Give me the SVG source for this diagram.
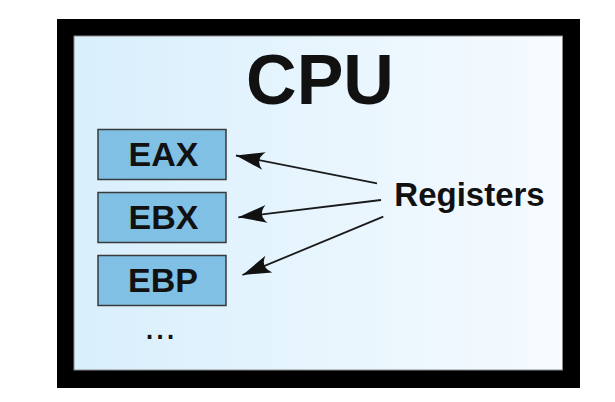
<svg xmlns="http://www.w3.org/2000/svg" width="615" height="402" viewBox="0 0 615 402">
  <defs>
    <linearGradient id="bg" x1="0" y1="0" x2="1" y2="0">
      <stop offset="0" stop-color="#d8effc"/>
      <stop offset="1" stop-color="#f6fbff"/>
    </linearGradient>
    <marker id="head" markerUnits="userSpaceOnUse" markerWidth="40" markerHeight="30" viewBox="-32 -15 40 30" refX="0" refY="0" orient="auto">
      <path d="M0,0 L-28.5,-9 Q-19,0 -28.5,9 Z" fill="#111"/>
    </marker>
    <style>
      .reg { fill: #80c0e4; stroke: #3a3a3a; stroke-width: 1.5; }
      .regtxt { font-family: "Liberation Sans", Arial, sans-serif; font-weight: bold; font-size: 34px; fill: #111; text-anchor: middle; }
      .conn { stroke: #1a1a1a; stroke-width: 1.8; fill: none; marker-end: url(#head); }
    </style>
  </defs>
  <rect width="615" height="402" fill="#ffffff"/>
  <g id="cpu">
    <rect x="57" y="19" width="523" height="369" fill="#000000"/>
    <rect x="74" y="36" width="488.5" height="334" fill="url(#bg)" stroke="#8a8a8a" stroke-width="1"/>
    <text x="320" y="103.5" font-family="Liberation Sans, Arial, sans-serif" font-weight="bold" font-size="70" fill="#111" text-anchor="middle">CPU</text>
  </g>
  <g id="eax">
    <rect class="reg" x="98" y="129.5" width="128" height="50"/>
    <text class="regtxt" x="163.5" y="166">EAX</text>
  </g>
  <g id="ebx">
    <rect class="reg" x="98" y="192.5" width="128" height="50"/>
    <text class="regtxt" x="163.5" y="229.3">EBX</text>
  </g>
  <g id="ebp">
    <rect class="reg" x="98" y="255.5" width="128" height="50"/>
    <text class="regtxt" x="163" y="291.7">EBP</text>
  </g>
  <g id="more">
    <text x="160" y="338.5" font-family="Liberation Sans, Arial, sans-serif" font-size="38" fill="#111" text-anchor="middle">...</text>
  </g>
  <g id="registers">
    <text x="469.5" y="205.5" font-family="Liberation Sans, Arial, sans-serif" font-weight="bold" font-size="33" fill="#111" text-anchor="middle">Registers</text>
  </g>
  <g id="connectors">
    <line class="conn" x1="377" y1="183.3" x2="236" y2="155.5"/>
    <line class="conn" x1="381" y1="200" x2="238.3" y2="217.3"/>
    <line class="conn" x1="383.3" y1="216.7" x2="242.5" y2="275"/>
  </g>
</svg>
